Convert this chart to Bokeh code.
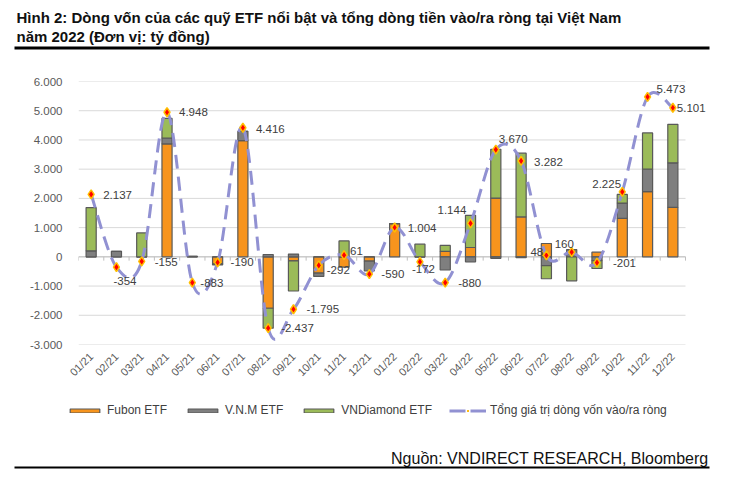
import numpy as np
from bokeh.plotting import figure
from bokeh.layouts import column
from bokeh.models import Range1d, FixedTicker, Legend, LegendItem, ColumnDataSource
from bokeh.embed import file_html
from bokeh.resources import INLINE
from bokeh.core.properties import value

# ---------------- data ----------------
months = ["01/21", "02/21", "03/21", "04/21", "05/21", "06/21", "07/21", "08/21",
          "09/21", "10/21", "11/21", "12/21", "01/22", "02/22", "03/22", "04/22",
          "05/22", "06/22", "07/22", "08/22", "09/22", "10/22", "11/22", "12/22"]
fubon = [0, 0, 0, 3866, 0, -240, 3980, -1760, -140, -560, -350, -150,
         1137, 0, 190, 320, 2012, 1364, 456, 0, 160, 1319, 2229, 1695]
vnm = [205, 190, 0, 200, 20, -40, 316, 80, 95, -110, 0, -330,
       0, 0, -450, -170, -50, -30, -300, 250, -130, 522, 771, 1523]
diamond = [1480, 0, 818, 670, 0, 0, 0, -680, -1030, 0, 545, 0,
           0, 433, 200, 1100, 1670, 2182, -450, -820, -270, 296, 1241, 1317]
total = [2137, -354, -155, 4948, -883, -190, 4416, -2437, -1795, -292, 61, -590,
         1004, -172, -880, 1144, 3670, 3282, 48, 160, -201, 2225, 5473, 5101]
y_ticks = [-3000, -2000, -1000, 0, 1000, 2000, 3000, 4000, 5000, 6000]

series_names = ["Fubon ETF", "V.N.M ETF", "VNDiamond ETF"]
line_name = "Tổng giá trị dòng vốn vào/ra ròng"
title_lines = ["Hình 2: Dòng vốn của các quỹ ETF nổi bật và tổng dòng tiền vào/ra ròng tại Việt Nam",
               "năm 2022 (Đơn vị: tỷ đồng)"]
source_text = "Nguồn: VNDIRECT RESEARCH, Bloomberg"

# label placement (pixel offsets of each data label relative to its marker)
label_dx = [12, -3, 13, 12, 8, 13, 13, 13, 13, 8, 6, 12,
            13, -8, 13, -33, 3, 13, -16, -17, 16, -30, 9, 4]
label_dy = [1, 14, 1, 0, 0, 0, 1, 0, 0, 5, -4, 0,
            1, 7, 0, -13, -11, 1, -3, -8, 0, -8, -8, 0]

# ---------------- styles ----------------
FONT = "Liberation Sans"
C_FUBON = "#F7941D"
C_VNM = "#7F7F7F"
C_DIA = "#9BBB59"
C_BORDER = "#595959"
C_LINE = "#9191D2"
TXT = "#404040"
W = 729


def blank_fig(h):
    f = figure(width=W, height=h, output_backend="svg", toolbar_location=None,
               x_range=Range1d(0, W), y_range=Range1d(h, 0),
               min_border=0, min_border_left=0, min_border_right=0,
               min_border_top=0, min_border_bottom=0, frame_align=False)
    f.axis.visible = False
    f.grid.visible = False
    f.outline_line_color = None
    f.background_fill_color = "white"
    f.border_fill_color = "white"
    return f


# ---------------- title ----------------
TH = 52
ft = blank_fig(TH)
ft.text(x=[16, 16], y=[17, 36], text=title_lines, text_font=value(FONT),
        text_font_size="15px", text_font_style="bold", text_color="#111111",
        text_align="left", text_baseline="middle")
ft.quad(left=[14], right=[709], top=[46], bottom=[49], fill_color="black",
        line_color=None)

# ---------------- main chart ----------------
MH = 340
LEFT, RIGHT_B, TOP_B, BOT_B = 78, 17, 29, 48
n = len(months)
data_px = 607.0
frame_px = W - LEFT - RIGHT_B
x_end = n * frame_px / data_px

p = figure(width=W, height=MH, output_backend="svg", toolbar_location=None,
           x_range=Range1d(0, x_end), y_range=Range1d(-3000, 6000),
           min_border_left=LEFT, min_border_right=RIGHT_B,
           min_border_top=TOP_B, min_border_bottom=BOT_B, frame_align=False)
p.outline_line_color = None
p.background_fill_color = "white"
p.border_fill_color = "white"
p.grid.visible = False

xc = [i + 0.5 for i in range(n)]
p.xaxis.ticker = FixedTicker(ticks=xc)
p.xaxis.major_label_overrides = {x: m for x, m in zip(xc, months)}
p.xaxis.major_label_orientation = np.pi / 4
p.xaxis.axis_line_color = None
p.xaxis.major_tick_line_color = None
p.xaxis.minor_tick_line_color = None
p.xaxis.major_label_text_font = FONT
p.xaxis.major_label_text_font_size = "11px"
p.xaxis.major_label_text_color = "#595959"
p.xaxis.major_label_standoff = 4

p.yaxis.ticker = FixedTicker(ticks=y_ticks)
p.yaxis.major_label_overrides = {t: f"{t:,}".replace(",", ".") for t in y_ticks}
p.yaxis.axis_line_color = None
p.yaxis.major_tick_line_color = None
p.yaxis.minor_tick_line_color = None
p.yaxis.major_label_text_font = FONT
p.yaxis.major_label_text_font_size = "11.5px"
p.yaxis.major_label_text_color = "#595959"
p.yaxis.major_label_standoff = 10

# horizontal gridlines over the category area only
p.segment(x0=[0] * len(y_ticks), x1=[n] * len(y_ticks), y0=y_ticks, y1=y_ticks,
          line_color="#D9D9D9", line_width=1)
# zero axis line with category tick marks
p.segment(x0=[0], x1=[n], y0=[0], y1=[0], line_color="#BFBFBF", line_width=1)
bounds = list(range(n + 1))
p.segment(x0=bounds, x1=bounds, y0=[0] * len(bounds), y1=[-130] * len(bounds),
          line_color="#BFBFBF", line_width=1)

# stacked bars (positives stacked upward, negatives downward)
pos = np.zeros(n)
neg = np.zeros(n)
for vals, col in zip([fubon, vnm, diamond], [C_FUBON, C_VNM, C_DIA]):
    v = np.array(vals, dtype=float)
    bottom = np.where(v >= 0, pos, neg)
    top = bottom + v
    pos = np.where(v >= 0, top, pos)
    neg = np.where(v < 0, top, neg)
    p.vbar(x=xc, width=0.4, bottom=bottom, top=top, fill_color=col,
           line_color=C_BORDER, line_width=1.2)

# smoothed dashed total line (Bezier segments through the data points)
t = np.array(total, dtype=float)
xa = np.array(xc)
x0s, y0s, x1s, y1s, cx0, cy0, cx1, cy1 = [], [], [], [], [], [], [], []
for i in range(n - 1):
    ip = max(i - 1, 0)
    inn = min(i + 2, n - 1)
    x0s.append(xa[i]); y0s.append(t[i])
    x1s.append(xa[i + 1]); y1s.append(t[i + 1])
    cx0.append(xa[i] + (xa[i + 1] - xa[ip]) / 6); cy0.append(t[i] + (t[i + 1] - t[ip]) / 6)
    cx1.append(xa[i + 1] - (xa[inn] - xa[i]) / 6); cy1.append(t[i + 1] - (t[inn] - t[i]) / 6)
p.bezier(x0=x0s, y0=y0s, x1=x1s, y1=y1s, cx0=cx0, cy0=cy0, cx1=cx1, cy1=cy1,
         line_color=C_LINE, line_width=3, line_dash="14 8")
p.scatter(x=xc, y=total, marker="diamond", size=9, fill_color="#FF0000",
          line_color="#FFC000", line_width=1.5)

lab_src = ColumnDataSource(dict(x=xc, y=total,
                                txt=[f"{v:,}".replace(",", ".") for v in total],
                                dx=label_dx, dy=label_dy))
p.text(x="x", y="y", text="txt", x_offset="dx", y_offset="dy", source=lab_src,
       text_font=value(FONT), text_font_size="11.5px", text_color=TXT,
       text_align="left", text_baseline="middle")

# ---------------- legend + source ----------------
BH = 82
fb = blank_fig(BH)
# legend proxies (no drawable data; only their legend glyphs show)
px, py = [np.nan], [np.nan]
r1 = fb.vbar(x=px, top=py, width=1, fill_color=C_FUBON, line_color=C_BORDER, line_width=1.2)
r2 = fb.vbar(x=px, top=py, width=1, fill_color=C_VNM, line_color=C_BORDER, line_width=1.2)
r3 = fb.vbar(x=px, top=py, width=1, fill_color=C_DIA, line_color=C_BORDER, line_width=1.2)
r4 = fb.line(x=px, y=py, line_color=C_LINE, line_width=3, line_dash="16 5")
r5 = fb.scatter(x=px, y=py, marker="diamond", size=7, fill_color="#FF0000",
                line_color="#FFC000", line_width=1)
legend = Legend(items=[LegendItem(label=series_names[0], renderers=[r1]),
                       LegendItem(label=series_names[1], renderers=[r2]),
                       LegendItem(label=series_names[2], renderers=[r3]),
                       LegendItem(label=line_name, renderers=[r4, r5])],
                orientation="horizontal", location=(66, BH - 25),
                glyph_width=37, glyph_height=5, label_standoff=4, spacing=17,
                padding=0, margin=0, border_line_color=None,
                background_fill_alpha=0,
                label_text_font=FONT, label_text_font_size="12px",
                label_text_color=TXT)
fb.add_layout(legend, "center")
fb.text(x=[708], y=[66], text=[source_text], text_font=value(FONT),
        text_font_size="16px", text_color="#111111", text_align="right",
        text_baseline="middle")
fb.quad(left=[14], right=[709], top=[74], bottom=[76], fill_color="black",
        line_color=None)

layout = column(ft, p, fb, spacing=0)
open("out.html", "w").write(file_html(layout, INLINE))
